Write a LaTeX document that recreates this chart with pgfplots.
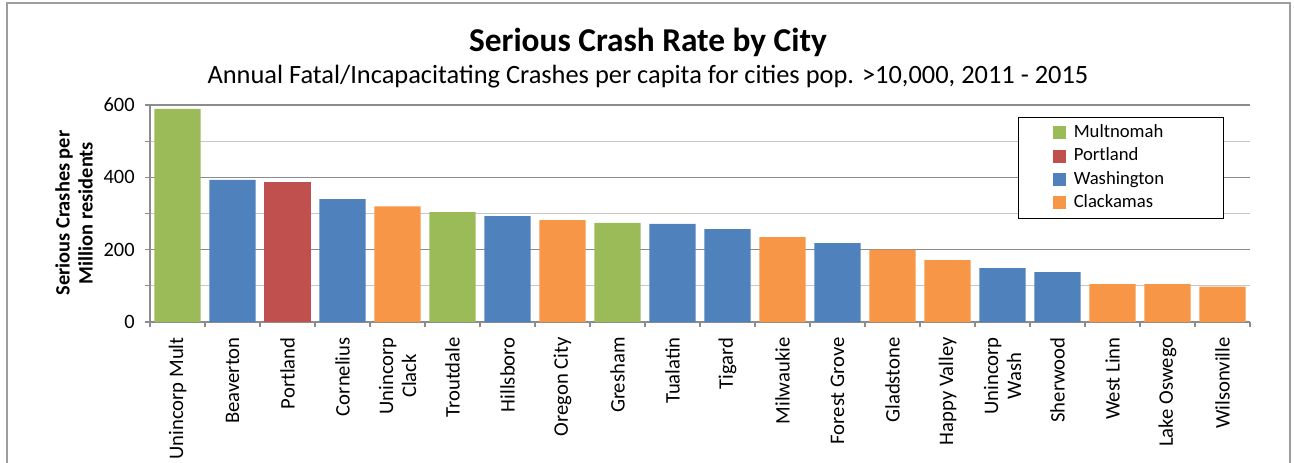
\documentclass[border=0pt]{standalone}
\usepackage{fontspec}
\setmainfont{Carlito}
\usepackage{pgfplots}
\pgfplotsset{compat=1.18}
\definecolor{cG}{HTML}{9BBB59}
\definecolor{cR}{HTML}{C0504D}
\definecolor{cB}{HTML}{4F81BD}
\definecolor{cO}{HTML}{F79646}
\begin{document}
\begin{tikzpicture}
\useasboundingbox (0,0) rectangle (970.5pt,346.5pt);
\draw[black!38, line width=0.9pt] (5.25pt,-10pt) rectangle (967.5pt,344.25pt);
\node[font=\bfseries\fontsize{25}{29}\selectfont, anchor=base, inner sep=0pt] at (486pt,308.25pt) {Serious Crash Rate by City};
\node[font=\fontsize{19.8}{23}\selectfont, anchor=base, inner sep=0pt] at (486pt,284.25pt) {Annual Fatal/Incapacitating Crashes per capita for cities pop. >10,000, 2011 - 2015};
\begin{axis}[
  scale only axis, width=825pt, height=162.75pt,
  at={(112.5pt,105pt)}, anchor=south west,
  xmin=-0.5, xmax=19.5, ymin=0, ymax=600,
  ybar, bar width=0.84,
  axis x line*=bottom, axis y line*=left,
  axis line style={black!45, line width=0.9pt, -},
  tick align=outside,
  major tick length=4pt, minor tick length=4pt,
  tick style={black!45, line width=0.9pt},
  xtick={0,...,19},
  minor xtick={-0.5,0.5,...,19.5},
  major x tick style={draw=none},
  xticklabels={Unincorp Mult, Beaverton, Portland, Cornelius, {Unincorp\\Clack}, Troutdale, Hillsboro, Oregon City, Gresham, Tualatin, Tigard, Milwaukie, Forest Grove, Gladstone, Happy Valley, {Unincorp\\Wash}, Sherwood, West Linn, Lake Oswego, Wilsonville},
  xticklabel style={rotate=90, anchor=east, align=center, font=\fontsize{15.5}{17.3}\selectfont},
  xticklabel shift=4pt,
  ytick={0,200,400,600},
  minor ytick={100,300,500},
  ymajorgrids, yminorgrids,
  major grid style={black!45, line width=0.9pt},
  minor grid style={black!22, line width=0.9pt},
  yticklabel style={font=\fontsize{15.3}{17}\selectfont},
  yticklabel shift=4pt,
  /pgf/number format/assume math mode=true,
  ylabel={Serious Crashes per\\Million residents},
  ylabel style={font=\bfseries\fontsize{15.3}{17.3}\selectfont, align=center, at={(axis description cs:-0.0691,0.502)}, anchor=center},
  legend image code/.code={\path (-22pt,0pt) (14.5pt,0pt); \fill[#1, draw=none] (0pt,-4.9pt) rectangle (9.75pt,4.9pt);},
  legend cell align=left,
  legend style={at={(axis description cs:0.789,0.945)}, anchor=north west, draw=black, line width=0.8pt,
    font=\fontsize{14}{16}\selectfont, inner xsep=4pt, inner ysep=5.5pt, row sep=5.5pt,
    nodes={inner xsep=1pt, inner ysep=0pt, text height=9.5pt, text depth=2.5pt}},
]
\addplot[fill=cG, draw=none, bar shift=0pt] coordinates {(0,589) (5,304) (8,274)};
\addlegendentry{\makebox[107pt][l]{Multnomah}}
\addplot[fill=cR, draw=none, bar shift=0pt] coordinates {(2,387)};
\addlegendentry{\makebox[107pt][l]{Portland}}
\addplot[fill=cB, draw=none, bar shift=0pt] coordinates {(1,393) (3,340) (6,293) (9,271) (10,257) (12,218) (15,149) (16,138)};
\addlegendentry{\makebox[107pt][l]{Washington}}
\addplot[fill=cO, draw=none, bar shift=0pt] coordinates {(4,320) (7,282) (11,235) (13,200) (14,171) (17,105) (18,105) (19,98)};
\addlegendentry{\makebox[107pt][l]{Clackamas}}
\end{axis}
\end{tikzpicture}
\end{document}
